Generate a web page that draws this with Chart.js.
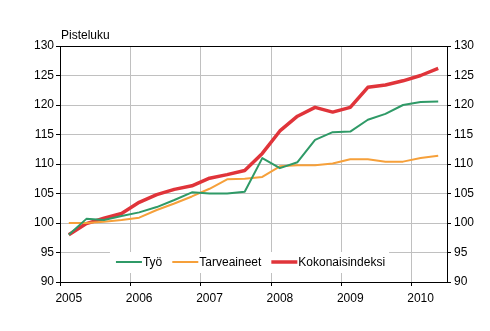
<!DOCTYPE html>
<html>
<head>
<meta charset="utf-8">
<script src="https://cdn.jsdelivr.net/npm/chart.js@4"></script>
<style>
  html, body { margin: 0; padding: 0; background: #fff; }
</style>
</head>
<body>
<canvas id="chart" width="490" height="331"></canvas>
<script>
// quarterly index, 2005 I - 2010 II
const quarters = [
  '2005 I', '2005 II', '2005 III', '2005 IV',
  '2006 I', '2006 II', '2006 III', '2006 IV',
  '2007 I', '2007 II', '2007 III', '2007 IV',
  '2008 I', '2008 II', '2008 III', '2008 IV',
  '2009 I', '2009 II', '2009 III', '2009 IV',
  '2010 I', '2010 II'
];
const tyo = [98.0, 100.7, 100.5, 101.2, 101.8, 102.7, 103.9, 105.2, 105.0, 105.0, 105.3, 111.0,
  109.3, 110.3, 114.1, 115.4, 115.5, 117.5, 118.5, 120.0, 120.5, 120.6];
const tarveaineet = [100.0, 100.0, 100.2, 100.5, 100.9, 102.2, 103.3, 104.5, 105.8, 107.4, 107.5, 107.8,
  109.6, 109.8, 109.8, 110.1, 110.8, 110.8, 110.4, 110.4, 111.0, 111.4];
const kokonais = [98.0, 99.9, 100.8, 101.6, 103.5, 104.8, 105.7, 106.3, 107.6, 108.2, 108.9, 111.8,
  115.6, 118.1, 119.6, 118.8, 119.6, 123.0, 123.4, 124.1, 125.0, 126.2];
const seriesNames = ['Työ', 'Tarveaineet', 'Kokonaisindeksi'];
const yMin = 90, yMax = 130, yStep = 5;

const FONT = 'Liberation Sans, Arial, sans-serif';

// legend drawn inside the plot, bottom centre
const insideLegend = {
  id: 'insideLegend',
  afterDraw(chart) {
    const ctx = chart.ctx;
    const area = chart.chartArea;
    ctx.save();
    ctx.font = '12px ' + FONT;
    const lineLen = 26, gap = 1, spacing = 10;
    const items = chart.data.datasets.map(ds => ({
      text: ds.label, color: ds.borderColor, lw: ds.borderWidth,
      w: lineLen + gap + ctx.measureText(ds.label).width
    }));
    const total = items.reduce((s, it) => s + it.w, 0) + spacing * (items.length - 1);
    let x = (area.left + area.right) / 2 - total / 2 - 3;
    const y = area.bottom - 20;
    ctx.fillStyle = '#fff';
    ctx.fillRect(x - 6, y - 10, total + 10, 21);
    items.forEach(it => {
      ctx.strokeStyle = it.color;
      ctx.lineWidth = it.lw;
      ctx.beginPath();
      ctx.moveTo(x, y);
      ctx.lineTo(x + lineLen, y);
      ctx.stroke();
      ctx.fillStyle = '#000';
      ctx.textBaseline = 'middle';
      ctx.textAlign = 'left';
      ctx.fillText(it.text, x + lineLen + gap, y + 1);
      x += it.w + spacing;
    });
    // axis unit
    ctx.fillText('Pisteluku', area.left + 1, area.top - 10);
    ctx.restore();
  }
};

new Chart(document.getElementById('chart'), {
  type: 'line',
  data: {
    labels: quarters,
    datasets: [
      { label: seriesNames[0], data: tyo, borderColor: '#2F9A67', borderWidth: 2 },
      { label: seriesNames[1], data: tarveaineet, borderColor: '#F6A03A', borderWidth: 2 },
      { label: seriesNames[2], data: kokonais, borderColor: '#E0343A', borderWidth: 3.5 }
    ]
  },
  options: {
    responsive: false,
    animation: false,
    layout: { padding: { top: 0, left: 0, right: 0, bottom: 0 } },
    elements: { point: { radius: 0 }, line: { tension: 0, borderJoinStyle: 'round' } },
    plugins: { legend: { display: false }, tooltip: { enabled: false } },
    scales: {
      x: {
        offset: true,
        grid: {
          offset: true,
          color: c => (c.index % 4 === 0 && c.index > 0) ? '#c0c0c0' : 'transparent',
          tickColor: c => (c.index % 4 === 0) ? '#000' : 'transparent',
          tickLength: 4
        },
        border: { color: '#000', width: 1 },
        ticks: {
          autoSkip: false, maxRotation: 0, padding: 5,
          color: '#000', font: { family: FONT, size: 12 },
          callback: (v, i) => i % 4 === 0 ? quarters[i].slice(0, 4) : ''
        },
        afterFit: s => { s.height = 49; }
      },
      y: {
        position: 'left',
        min: yMin, max: yMax,
        grid: {
          color: c => c.tick && c.tick.value === yMax ? '#000' : '#c0c0c0',
          tickColor: '#000', tickLength: 4
        },
        border: { color: '#000', width: 1 },
        ticks: { stepSize: yStep, padding: 2, color: '#000', font: { family: FONT, size: 12 } },
        afterFit: s => { s.width = 60; }
      },
      y2: {
        position: 'right',
        min: yMin, max: yMax,
        grid: { drawOnChartArea: false, tickColor: '#000', tickLength: 4 },
        border: { color: '#000', width: 1 },
        ticks: { stepSize: yStep, padding: 3, color: '#000', font: { family: FONT, size: 12 } },
        afterFit: s => { s.width = 43; }
      }
    }
  },
  plugins: [insideLegend, {
    id: 'topPad',
    beforeLayout(chart) { chart.options.layout.padding.top = 46; }
  }]
});
</script>
</body>
</html>
